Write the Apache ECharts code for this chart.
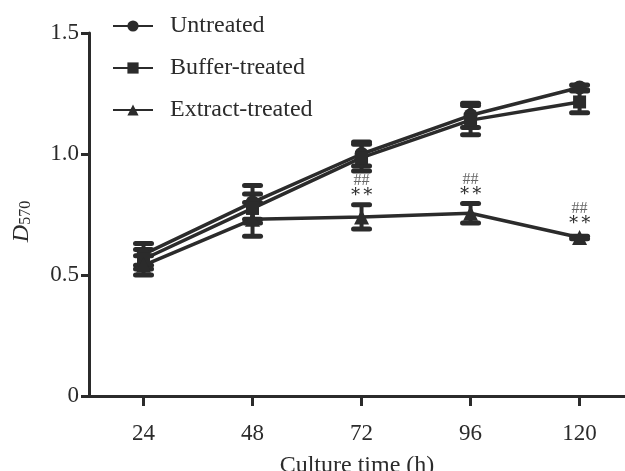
<!DOCTYPE html>
<html>
<head>
<meta charset="utf-8">
<script src="https://cdn.jsdelivr.net/npm/echarts@6/dist/echarts.min.js"></script>
<style>
  html, body { margin: 0; padding: 0; background: #fff; }
  #chart { width: 625px; height: 471px; }
</style>
</head>
<body>
<div id="chart"></div>
<script>
// culture time points (h)
const hours = [24, 48, 72, 96, 120];
const xTicks = [24, 48, 72, 96, 120];

// mean D570 and error (SD) per group
const untreated = [0.585, 0.80, 1.00, 1.16, 1.275];
const untreatedErr = [0.045, 0.07, 0.05, 0.05, 0.01];
const buffer = [0.565, 0.775, 0.985, 1.14, 1.215];
const bufferErr = [0.04, 0.06, 0.055, 0.06, 0.045];
const extract = [0.54, 0.73, 0.74, 0.755, 0.655];
const extractErr = [0.04, 0.07, 0.05, 0.04, 0.005];

// significance marks on the extract-treated group
const starMarks = ["", "", "\u2217\u2217", "\u2217\u2217", "\u2217\u2217"];
const hashMarks = ["", "", "##", "##", "##"];

const INK = "#2b2b2b";
const FONT = "Liberation Serif";

const chart = echarts.init(document.getElementById("chart"));

function errorBars(name, means, errs) {
  return {
    type: "custom",
    name: name + "-err",
    z: 3,
    silent: true,
    data: hours.map((h, i) => [h, means[i] - errs[i], means[i] + errs[i]]),
    renderItem: (params, api) => {
      const lo = api.coord([api.value(0), api.value(1)]);
      const hi = api.coord([api.value(0), api.value(2)]);
      const half = 8;
      const style = { stroke: INK, lineWidth: 5, lineCap: "round" };
      return {
        type: "group",
        children: [
          { type: "line", shape: { x1: lo[0], y1: lo[1], x2: hi[0], y2: hi[1] }, style: { stroke: INK, lineWidth: 4 } },
          { type: "line", shape: { x1: hi[0] - half, y1: hi[1], x2: hi[0] + half, y2: hi[1] }, style },
          { type: "line", shape: { x1: lo[0] - half, y1: lo[1], x2: lo[0] + half, y2: lo[1] }, style },
        ],
      };
    },
  };
}

function lineSeries(name, means, symbol, size) {
  return {
    type: "line",
    name,
    data: hours.map((h, i) => [h, means[i]]),
    symbol,
    symbolSize: size,
    z: 4,
    lineStyle: { color: INK, width: 3.5 },
    itemStyle: { color: INK },
    emphasis: { disabled: true },
  };
}

const option = {
  animation: false,
  textStyle: { fontFamily: FONT },
  grid: { left: 89, right: 0, top: 33, bottom: 75, outerBoundsMode: "none", containLabel: false },
  legend: {
    orient: "vertical",
    left: 107,
    top: 9,
    itemWidth: 40,
    itemHeight: 14,
    itemGap: 18,
    data: ["Untreated", "Buffer-treated", "Extract-treated"],
    textStyle: { fontFamily: FONT, fontSize: 24, color: INK, padding: [0, 0, 0, 12] },
  },
  xAxis: {
    type: "value",
    min: 12,
    max: 130,
    name: "Culture time (h)",
    nameLocation: "middle",
    nameGap: 58,
    nameTextStyle: { fontFamily: FONT, fontSize: 24, color: INK },
    axisLine: { lineStyle: { color: INK, width: 3 } },
    axisTick: { customValues: xTicks, length: 10, lineStyle: { color: INK, width: 3 } },
    axisLabel: { customValues: xTicks, margin: 26, fontFamily: FONT, fontSize: 23, color: INK },
    splitLine: { show: false },
  },
  yAxis: {
    type: "value",
    min: 0,
    max: 1.5,
    interval: 0.5,
    name: "{d|D}{s|570}",
    nameLocation: "middle",
    nameGap: 55,
    nameRotate: 90,
    nameTextStyle: {
      padding: [0, 14, 0, 0],
      rich: {
        d: { fontFamily: FONT, fontStyle: "italic", fontSize: 24, color: INK },
        s: { fontFamily: FONT, fontSize: 16, color: INK, verticalAlign: "bottom", padding: [8, 0, 0, 0] },
      },
    },
    axisLine: { show: true, lineStyle: { color: INK, width: 3 } },
    axisTick: { show: true, length: 8, lineStyle: { color: INK, width: 3 } },
    axisLabel: {
      margin: 10,
      fontFamily: FONT,
      fontSize: 23,
      color: INK,
      formatter: (v) => (v === 0 ? "0" : v.toFixed(1)),
    },
    splitLine: { show: false },
  },
  series: [
    errorBars("Untreated", untreated, untreatedErr),
    errorBars("Buffer-treated", buffer, bufferErr),
    errorBars("Extract-treated", extract, extractErr),
    lineSeries("Untreated", untreated, "circle", 14),
    lineSeries("Buffer-treated", buffer, "rect", 13),
    lineSeries("Extract-treated", extract, "triangle", 15),
    {
      type: "custom",
      name: "marks",
      z: 5,
      silent: true,
      data: hours.map((h, i) => [h, extract[i], extractErr[i], i]),
      renderItem: (params, api) => {
        const i = api.value(3);
        if (!starMarks[i]) return null;
        const cap = api.coord([api.value(0), api.value(1) + api.value(2)]);
        const pt = api.coord([api.value(0), api.value(1)]);
        const top = Math.min(cap[1] - 2, pt[1] - 7);
        return {
          type: "group",
          children: [
            {
              type: "text",
              x: pt[0],
              y: top - 10,
              style: { text: starMarks[i], font: "18px 'DejaVu Serif'", fill: INK, align: "center", verticalAlign: "middle" },
            },
            {
              type: "text",
              x: pt[0],
              y: top - 22,
              style: { text: hashMarks[i], font: "16px " + FONT, fill: "#666", align: "center", verticalAlign: "middle" },
            },
          ],
        };
      },
    },
  ],
};

chart.setOption(option);
</script>
</body>
</html>
